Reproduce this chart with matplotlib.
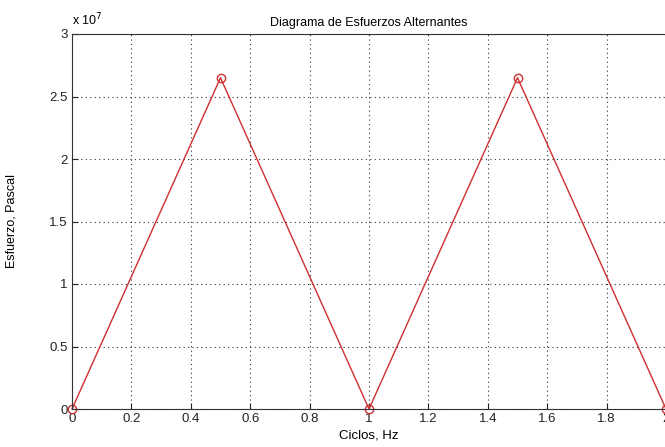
import matplotlib
matplotlib.use("Agg")
import matplotlib.pyplot as plt
from matplotlib.ticker import FuncFormatter

ciclos = [0, 0.5, 1.0, 1.5, 2.0]
esfuerzo = [0, 2.65e7, 0, 2.65e7, 0]
xticks = [0, 0.2, 0.4, 0.6, 0.8, 1.0, 1.2, 1.4, 1.6, 1.8, 2.0]
yticks = [0, 0.5e7, 1.0e7, 1.5e7, 2.0e7, 2.5e7, 3.0e7]

plt.rcParams['font.family'] = ['Liberation Sans', 'DejaVu Sans']

fig = plt.figure(figsize=(6.65, 4.47), dpi=100)
ax = fig.add_axes([72/665, 1-409/447, (666-72)/665, (409-34)/447])
ax.plot(ciclos, esfuerzo, color='#cc3030', lw=1.0, marker='o', markersize=6,
        markerfacecolor='none', markeredgecolor='#cc3030', clip_on=False)
ax.set_xlim(0, 2)
ax.set_ylim(0, 3e7)
ax.set_xticks(xticks)
ax.set_yticks(yticks)

def xf(v, p):
    return f"{v:g}"
def yf(v, p):
    return f"{v/1e7:g}"
ax.xaxis.set_major_formatter(FuncFormatter(xf))
ax.yaxis.set_major_formatter(FuncFormatter(yf))
ax.tick_params(direction='in', length=4, labelsize=9.5, colors='#222222', pad=3)
ax.grid(True, linestyle=(0, (1, 3)), color='#333333', lw=0.8)
for s in ax.spines.values():
    s.set_color('#333333')
ax.set_title('Diagrama de Esfuerzos Alternantes', fontsize=9, pad=6)
ax.set_xlabel('Ciclos, Hz', fontsize=9.5)
ax.xaxis.set_label_coords(0.5, -(429-409)/375, transform=ax.transAxes)
ax.set_ylabel('Esfuerzo, Pascal', fontsize=9)
ax.yaxis.set_label_coords(-(72-18)/594, 0.5, transform=ax.transAxes)
fig.text(72/665, 1-20/447, r'x 10$^7$', fontsize=9, ha='left', va='center')
fig.savefig('out.png', dpi=100)
